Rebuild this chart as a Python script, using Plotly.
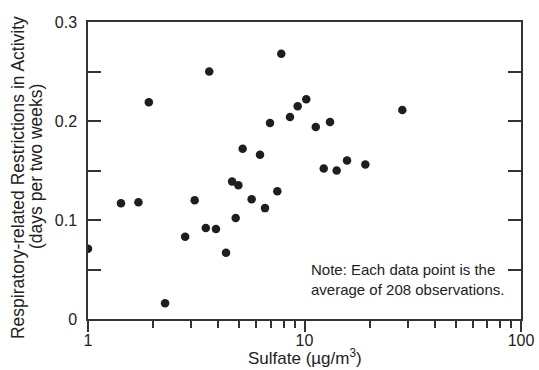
import plotly.graph_objects as go

# Data (sulfate in ug/m3, restriction days per two weeks)
sulfate = [1.0, 1.42, 1.71, 1.91, 2.27, 2.81, 3.11, 3.50, 3.63, 3.90, 4.34,
           4.63, 4.95, 4.81, 5.18, 5.70, 6.23, 6.57, 6.93, 7.49, 7.81, 8.57,
           9.30, 10.19, 11.27, 12.27, 13.12, 14.08, 15.72, 19.10, 28.3]
restrict = [0.071, 0.117, 0.118, 0.219, 0.016, 0.083, 0.120, 0.092, 0.250, 0.091, 0.067,
            0.139, 0.135, 0.102, 0.172, 0.121, 0.166, 0.112, 0.198, 0.129, 0.268, 0.204,
            0.215, 0.222, 0.194, 0.152, 0.199, 0.150, 0.160, 0.156, 0.211]

x_major = [1, 10, 100]
x_major_text = ["1", "10", "100"]
x_minor = [2, 3, 4, 5, 6, 7, 8, 9, 20, 30, 40, 50, 60, 70, 80, 90]
y_major = [0, 0.1, 0.2, 0.3]
y_major_text = ["0", "0.1", "0.2", "0.3"]
y_minor = [0.05, 0.15, 0.25]

y_title_1 = "Respiratory-related Restrictions in Activity"
y_title_2 = "(days per two weeks)"
x_title = "Sulfate (µg/m<sup>3</sup>)"
note = "Note: Each data point is the<br>average of 208 observations."

FONT = "Liberation Sans, Arial, sans-serif"
AX = "#333333"
TXT = "#222222"

fig = go.Figure()
fig.add_trace(go.Scatter(
    x=sulfate, y=restrict, mode="markers",
    marker=dict(size=8.5, color="#1e1e1e", line=dict(width=0)),
    showlegend=False, hoverinfo="skip"))

fig.update_layout(
    width=539, height=370,
    margin=dict(l=88, r=18, t=22, b=51),
    paper_bgcolor="white", plot_bgcolor="white",
    font=dict(family=FONT, color=TXT),
    xaxis=dict(
        type="log", range=[0, 2], automargin=False,
        tickmode="array", tickvals=x_major, ticktext=x_major_text,
        ticks="outside", ticklen=11, tickwidth=1.5, tickcolor=AX,
        minor=dict(tickmode="array", tickvals=x_minor, ticks="outside",
                   ticklen=7, tickwidth=1.5, tickcolor=AX, showgrid=False),
        showline=True, linecolor=AX, linewidth=1.5, mirror=True,
        showgrid=False, zeroline=False,
        ticklabelstandoff=-5,
        tickfont=dict(size=16, family=FONT, color=TXT),
    ),
    yaxis=dict(
        range=[0, 0.3], automargin=False,
        tickmode="array", tickvals=y_major, ticktext=y_major_text,
        ticks="inside", ticklen=13, tickwidth=1.5, tickcolor=AX,
        minor=dict(tickmode="array", tickvals=y_minor, ticks="inside",
                   ticklen=13, tickwidth=1.5, tickcolor=AX, showgrid=False),
        showline=True, linecolor=AX, linewidth=1.5, mirror="ticks",
        showgrid=False, zeroline=False,
        ticklabelstandoff=6,
        tickfont=dict(size=16, family=FONT, color=TXT),
    ),
)

# y-axis title lines
fig.add_annotation(x=-0.1617, y=0.478, xref="paper", yref="paper",
                   xanchor="center", yanchor="middle", textangle=-90,
                   text=y_title_1, showarrow=False,
                   font=dict(size=17.5, family=FONT, color=TXT))
fig.add_annotation(x=-0.120, y=0.512, xref="paper", yref="paper",
                   xanchor="center", yanchor="middle", textangle=-90,
                   text=y_title_2, showarrow=False,
                   font=dict(size=17.5, family=FONT, color=TXT))
# x-axis title
fig.add_annotation(x=0.501, y=-0.128, xref="paper", yref="paper",
                   xanchor="center", yanchor="middle",
                   text=x_title, showarrow=False,
                   font=dict(size=17, family=FONT, color=TXT))
# note
fig.add_annotation(
    x=0.510, y=0.202, xref="paper", yref="paper", xanchor="left", yanchor="top",
    text=note, showarrow=False, align="left",
    font=dict(size=15, family=FONT, color=TXT))

fig.write_html("out.html",
               config={"displayModeBar": False},
               post_script="document.body.style.margin='0';document.body.style.overflow='hidden';")
